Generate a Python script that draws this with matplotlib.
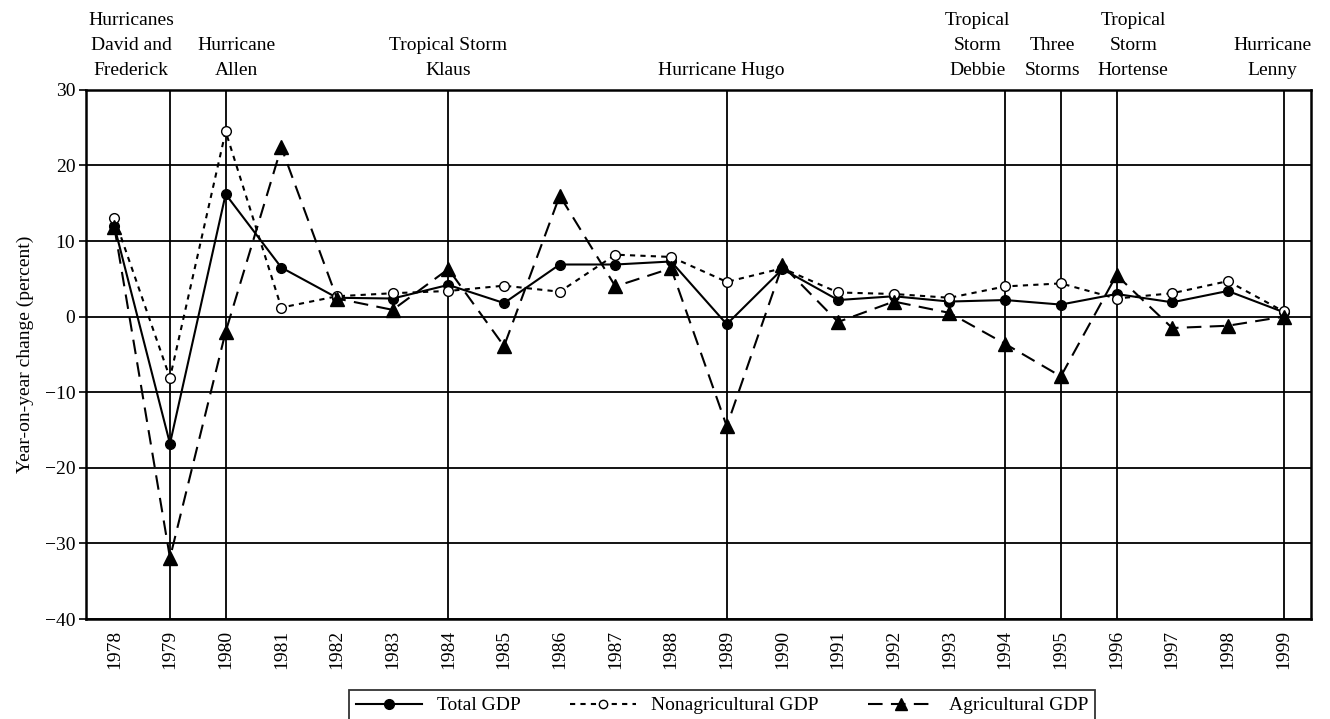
import matplotlib
matplotlib.use("Agg")
import matplotlib.pyplot as plt
from matplotlib.lines import Line2D

plt.rcParams['font.family'] = ['Liberation Serif', 'DejaVu Serif']

years = list(range(1978, 2000))
total_gdp = [12.0, -16.8, 16.2, 6.5, 2.5, 2.4, 4.2, 1.8, 6.9, 6.9, 7.3, -1.0,
             6.3, 2.2, 2.7, 2.0, 2.2, 1.6, 3.0, 1.9, 3.4, 0.6]
nonag_gdp = [13.1, -8.1, 24.5, 1.2, 2.7, 3.1, 3.4, 4.1, 3.3, 8.2, 7.9, 4.6,
             6.4, 3.2, 3.0, 2.5, 4.0, 4.4, 2.4, 3.1, 4.7, 0.7]
ag_gdp = [11.9, -31.9, -2.0, 22.4, 2.4, 0.9, 6.3, -3.9, 16.0, 4.0, 6.4, -14.5,
          6.8, -0.7, 2.0, 0.5, -3.6, -7.9, 5.5, -1.5, -1.2, 0.0]

event_years = [1979, 1980, 1984, 1989, 1994, 1995, 1996, 1999]
event_labels = ["Hurricanes\nDavid and\nFrederick", "Hurricane\nAllen",
                "Tropical Storm\nKlaus", "Hurricane Hugo",
                "Tropical\nStorm\nDebbie", "Three\nStorms",
                "Tropical\nStorm\nHortense", "Hurricane\nLenny"]
label_x = [1978.3, 1980.2, 1984.0, 1988.9, 1993.5, 1994.85, 1996.3, 1998.8]

FS = 14

fig = plt.figure(figsize=(13.3, 7.19), dpi=100)
ax = fig.add_axes([0.065, 0.139, 0.921, 0.736])

ax.set_xlim(1977.5, 1999.5)
ax.set_ylim(-40, 30)
ax.set_yticks(range(-40, 31, 10))
for yv in range(-40, 31, 10):
    ax.axhline(yv, color='black', lw=1.3, zorder=1)
for ev in event_years:
    ax.axvline(ev, color='black', lw=1.3, zorder=1)

ax.plot(years, total_gdp, color='black', lw=1.5, marker='o', ms=7,
        markerfacecolor='black', zorder=3)
ax.plot(years, nonag_gdp, color='black', lw=1.5, linestyle=(0, (2.5, 2.5)),
        marker='o', ms=7, markerfacecolor='white', markeredgewidth=1.0, zorder=3)
ax.plot(years, ag_gdp, color='black', lw=1.5, linestyle=(0, (7, 4)),
        marker='^', ms=10, markerfacecolor='black', zorder=4)

ax.set_xticks(years)
ax.set_xticklabels([str(y) for y in years], rotation=90, fontsize=FS)
ax.tick_params(axis='x', length=0, pad=8)
ax.tick_params(axis='y', length=5, width=1.2, labelsize=FS, pad=3)
for s in ax.spines.values():
    s.set_linewidth(1.8)
    s.set_color('black')

ax.set_ylabel("Year-on-year change (percent)", fontsize=FS, labelpad=8)

trans = ax.get_xaxis_transform()
for lx, lab in zip(label_x, event_labels):
    ax.text(lx, 1.02, lab, transform=trans, ha='center', va='bottom',
            fontsize=FS, linespacing=1.62, multialignment='center')

handles = [
    Line2D([], [], color='black', lw=1.5, marker='o', ms=7, markerfacecolor='black'),
    Line2D([], [], color='black', lw=1.5, linestyle=(0, (2.5, 2.5)), marker='o', ms=6,
           markerfacecolor='white', markeredgewidth=1.0),
    Line2D([], [], color='black', lw=1.5, linestyle=(0, (7, 4)), marker='^', ms=9,
           markerfacecolor='black'),
]
leg = fig.legend(handles, ["Total GDP", "Nonagricultural GDP", "Agricultural GDP"],
                 loc='upper center', bbox_to_anchor=(0.543, 0.054), ncol=3,
                 frameon=True, fancybox=False, edgecolor='black', fontsize=FS,
                 handlelength=3.4, columnspacing=2.5, borderpad=0.35)
leg.get_frame().set_linewidth(1.3)

fig.savefig("out.png", dpi=100)
